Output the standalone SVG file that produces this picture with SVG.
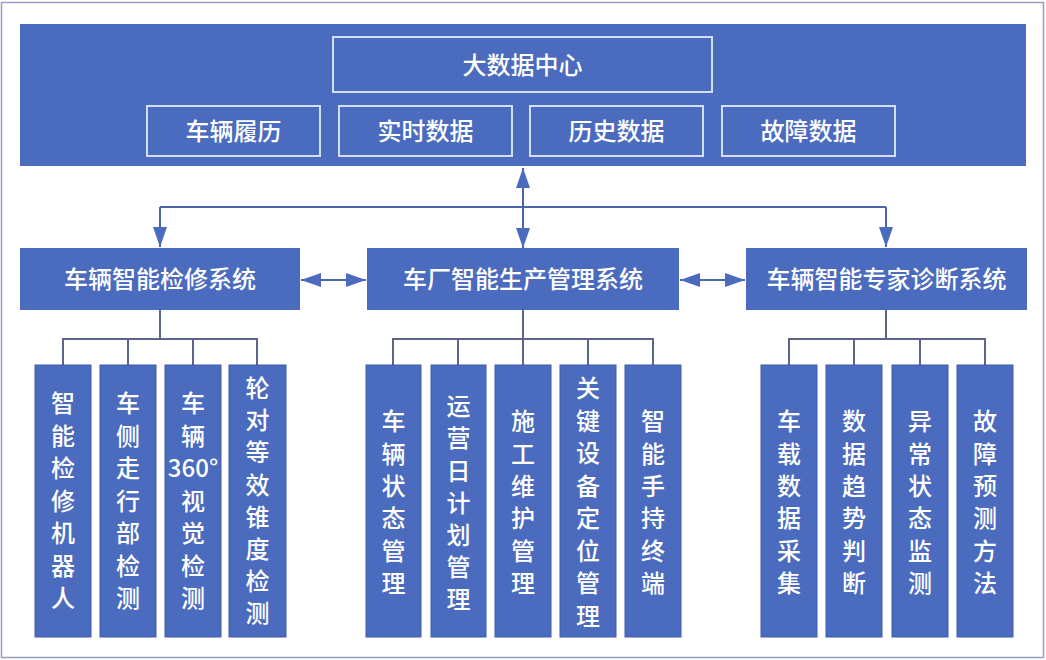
<svg xmlns="http://www.w3.org/2000/svg" width="1046" height="660" viewBox="0 0 1046 660">
<style>
.bg{fill:#ffffff}
.frame{fill:none;stroke:#9aa0bc;stroke-width:1.5}
.blue{fill:#4a6bbe}
.inner{fill:#4a6bbe;stroke:#d3ddf5;stroke-width:2}
.child{fill:#4a6bbe;stroke:#3f5da8;stroke-width:1}
.t{font-family:"Noto Sans CJK SC","Noto Sans",sans-serif;fill:#ffffff;font-size:24px;font-weight:500;text-anchor:middle;dominant-baseline:central;transform:translate(0px,-2px)}
.tree{fill:none;stroke:#5c6688;stroke-width:2}
.arr{fill:none;stroke:#4a64ad;stroke-width:2}
</style>
<defs>
<marker id="ah" viewBox="0 0 20 14" refX="20" refY="7" markerWidth="20" markerHeight="14" markerUnits="userSpaceOnUse" orient="auto-start-reverse">
<path d="M0,0 L20,7 L0,14 z" fill="#4a6bbe"/>
</marker>
</defs>
<rect class="bg" x="0" y="0" width="1046" height="660"/>
<rect class="frame" x="1.5" y="2.5" width="1042" height="655"/>

<g id="bigdata">
<rect class="blue" x="20" y="24" width="1006" height="142"/>
<g id="center"><rect class="inner" x="333" y="37" width="379" height="55"/><text class="t" x="522.5" y="65">大数据中心</text></g>
<g id="lvl1"><rect class="inner" x="147" y="106" width="173" height="50"/><text class="t" x="233.5" y="131">车辆履历</text></g>
<g id="rt"><rect class="inner" x="339" y="106" width="173" height="50"/><text class="t" x="425.5" y="131">实时数据</text></g>
<g id="hist"><rect class="inner" x="530" y="106" width="173" height="50"/><text class="t" x="616.5" y="131">历史数据</text></g>
<g id="fault"><rect class="inner" x="722" y="106" width="173" height="50"/><text class="t" x="808.5" y="131">故障数据</text></g>
</g>

<g id="connectors">
<path class="arr" d="M523,248 L523,168" marker-start="url(#ah)" marker-end="url(#ah)"/>
<path class="arr" d="M160,207 L886,207"/>
<path class="arr" d="M160,207 L160,247" marker-end="url(#ah)"/>
<path class="arr" d="M886,207 L886,247" marker-end="url(#ah)"/>
<path class="arr" d="M301,280 L366,280" marker-start="url(#ah)" marker-end="url(#ah)"/>
<path class="arr" d="M680,280 L745,280" marker-start="url(#ah)" marker-end="url(#ah)"/>
<path class="tree" d="M160,310 L160,339 M63,366 L63,339 L257,339 L257,366 M128,339 L128,366 M193,339 L193,366"/>
<path class="tree" d="M523,310 L523,366 M393,366 L393,339 L653,339 L653,366 M458,339 L458,366 M588,339 L588,366"/>
<path class="tree" d="M886,310 L886,339 M789,366 L789,339 L985,339 L985,366 M854,339 L854,366 M920,339 L920,366"/>
</g>

<g id="sys1"><rect class="blue" x="20" y="248" width="280" height="62"/><text class="t" x="160" y="279">车辆智能检修系统</text></g>
<g id="sys2"><rect class="blue" x="367" y="248" width="312" height="62"/><text class="t" x="523" y="279">车厂智能生产管理系统</text></g>
<g id="sys3"><rect class="blue" x="746" y="248" width="281" height="62"/><text class="t" x="886.5" y="279">车辆智能专家诊断系统</text></g>

<g id="c1"><rect class="child" x="35" y="365" width="56" height="272"/>
<text class="t"><tspan x="63" y="403">智</tspan><tspan x="63" y="435.5">能</tspan><tspan x="63" y="468">检</tspan><tspan x="63" y="500.5">修</tspan><tspan x="63" y="533">机</tspan><tspan x="63" y="565.5">器</tspan><tspan x="63" y="598">人</tspan></text></g>
<g id="c2"><rect class="child" x="100" y="365" width="56" height="272"/>
<text class="t"><tspan x="128" y="403">车</tspan><tspan x="128" y="435.5">侧</tspan><tspan x="128" y="468">走</tspan><tspan x="128" y="500.5">行</tspan><tspan x="128" y="533">部</tspan><tspan x="128" y="565.5">检</tspan><tspan x="128" y="598">测</tspan></text></g>
<g id="c3"><rect class="child" x="165" y="365" width="56" height="272"/>
<text class="t"><tspan x="193" y="403">车</tspan><tspan x="193" y="435.5">辆</tspan><tspan x="193" y="468">360°</tspan><tspan x="193" y="500.5">视</tspan><tspan x="193" y="533">觉</tspan><tspan x="193" y="565.5">检</tspan><tspan x="193" y="598">测</tspan></text></g>
<g id="c4"><rect class="child" x="229" y="365" width="57" height="272"/>
<text class="t"><tspan x="257.5" y="388">轮</tspan><tspan x="257.5" y="420">对</tspan><tspan x="257.5" y="452">等</tspan><tspan x="257.5" y="484.5">效</tspan><tspan x="257.5" y="516.5">锥</tspan><tspan x="257.5" y="549">度</tspan><tspan x="257.5" y="581">检</tspan><tspan x="257.5" y="613">测</tspan></text></g>

<g id="m1"><rect class="child" x="366" y="365" width="55" height="272"/>
<text class="t"><tspan x="393.5" y="421">车</tspan><tspan x="393.5" y="453.5">辆</tspan><tspan x="393.5" y="486">状</tspan><tspan x="393.5" y="518">态</tspan><tspan x="393.5" y="550.5">管</tspan><tspan x="393.5" y="583">理</tspan></text></g>
<g id="m2"><rect class="child" x="431" y="365" width="55" height="272"/>
<text class="t"><tspan x="458.5" y="406">运</tspan><tspan x="458.5" y="438">营</tspan><tspan x="458.5" y="470.5">日</tspan><tspan x="458.5" y="503">计</tspan><tspan x="458.5" y="535">划</tspan><tspan x="458.5" y="567">管</tspan><tspan x="458.5" y="599">理</tspan></text></g>
<g id="m3"><rect class="child" x="495" y="365" width="56" height="272"/>
<text class="t"><tspan x="523" y="421">施</tspan><tspan x="523" y="453.5">工</tspan><tspan x="523" y="486">维</tspan><tspan x="523" y="518">护</tspan><tspan x="523" y="550.5">管</tspan><tspan x="523" y="583">理</tspan></text></g>
<g id="m4"><rect class="child" x="560" y="365" width="56" height="272"/>
<text class="t"><tspan x="588" y="388">关</tspan><tspan x="588" y="420.5">键</tspan><tspan x="588" y="453">设</tspan><tspan x="588" y="485.5">备</tspan><tspan x="588" y="518">定</tspan><tspan x="588" y="550.5">位</tspan><tspan x="588" y="583">管</tspan><tspan x="588" y="615.5">理</tspan></text></g>
<g id="m5"><rect class="child" x="625" y="365" width="56" height="272"/>
<text class="t"><tspan x="653" y="421">智</tspan><tspan x="653" y="453.5">能</tspan><tspan x="653" y="486">手</tspan><tspan x="653" y="518">持</tspan><tspan x="653" y="550.5">终</tspan><tspan x="653" y="583">端</tspan></text></g>

<g id="r1"><rect class="child" x="761" y="365" width="56" height="272"/>
<text class="t"><tspan x="789" y="421">车</tspan><tspan x="789" y="453.5">载</tspan><tspan x="789" y="486">数</tspan><tspan x="789" y="518">据</tspan><tspan x="789" y="550.5">采</tspan><tspan x="789" y="583">集</tspan></text></g>
<g id="r2"><rect class="child" x="826" y="365" width="56" height="272"/>
<text class="t"><tspan x="854" y="421">数</tspan><tspan x="854" y="453.5">据</tspan><tspan x="854" y="486">趋</tspan><tspan x="854" y="518">势</tspan><tspan x="854" y="550.5">判</tspan><tspan x="854" y="583">断</tspan></text></g>
<g id="r3"><rect class="child" x="892" y="365" width="56" height="272"/>
<text class="t"><tspan x="920" y="421">异</tspan><tspan x="920" y="453.5">常</tspan><tspan x="920" y="486">状</tspan><tspan x="920" y="518">态</tspan><tspan x="920" y="550.5">监</tspan><tspan x="920" y="583">测</tspan></text></g>
<g id="r4"><rect class="child" x="957" y="365" width="56" height="272"/>
<text class="t"><tspan x="985" y="421">故</tspan><tspan x="985" y="453.5">障</tspan><tspan x="985" y="486">预</tspan><tspan x="985" y="518">测</tspan><tspan x="985" y="550.5">方</tspan><tspan x="985" y="583">法</tspan></text></g>
</svg>
